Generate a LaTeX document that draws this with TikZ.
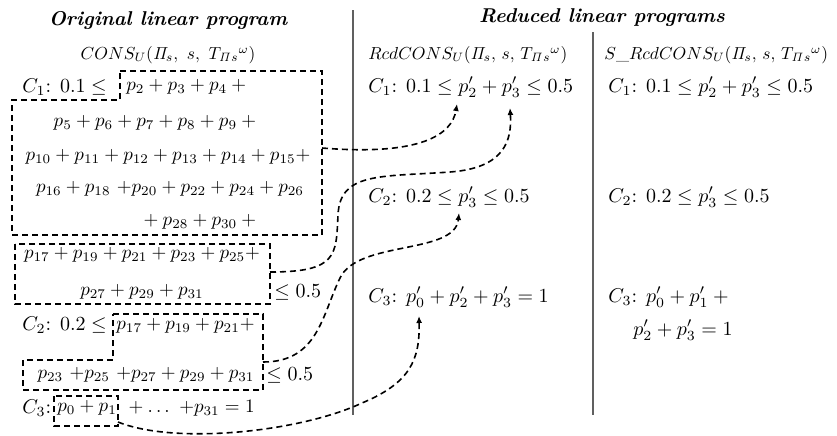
\documentclass[tikz,border=0pt]{standalone}
\usepackage{graphicx}
\usepackage{tikz}
\usetikzlibrary{arrows.meta, positioning}

\newcommand{\sums}[1]{\scalebox{0.95}{$#1$}}
\newcommand{\hdrs}[1]{\scalebox{0.87}{$#1$}}

\begin{document}
\begin{tikzpicture}[
    x=0.5pt, y=-0.5pt,
    txt/.style={inner sep=0pt, anchor=west},
    mid/.style={inner sep=0pt},
    ttl/.style={inner sep=0pt, font=\bfseries\itshape},
    dbox/.style={line width=0.8pt, dash pattern=on 3pt off 2pt},
    conn/.style={-{Latex[length=3.5pt, width=3pt]}, line width=0.8pt,
                 dash pattern=on 3pt off 2pt},
    sep/.style={gray!75!black, line width=0.6pt},
  ]
    \useasboundingbox (0,0) rectangle (837,435);

    % column titles
    \node[ttl] (orig) at (168,20) {Original linear program};
    \node[ttl] (red)  at (602,18) {Reduced linear programs};

    % separators
    \draw[sep] (353,10) -- (353,415);
    \draw[sep] (593,32) -- (593,415);

    % original program
    \node[mid] (cons) at (168,55)
        {\hdrs{CONS_U(\mathit{\Pi}_s,\ s,\ T_{\mathit{\Pi}s}{}^{\omega})}};
    \node[txt] (c1lbl) at (22,87)  {$C_1$: $0.1 \leq$};
    \node[txt] (c1r1)  at (126,87) {\sums{p_2 + p_3 + p_4 +{}}};
    \node[mid] (c1r2)  at (157,123) {\sums{p_5 + p_6 + p_7 + p_8 + p_9 +{}}};
    \node[mid] (c1r3)  at (168,157)
        {\sums{p_{10} + p_{11} + p_{12} + p_{13} + p_{14} + p_{15} +}};
    \node[mid] (c1r4)  at (170,189)
        {\sums{p_{16} + p_{18}\ {+}p_{20} + p_{22} + p_{24} + p_{26}}};
    \node[mid] (c1r5)  at (200,222) {\sums{{}+ p_{28} + p_{30} +{}}};
    \node[mid] (c1r6)  at (142,255)
        {\sums{p_{17} + p_{19} + p_{21} + p_{23} + p_{25} +}};
    \node[mid] (c1r7)  at (142,292) {\sums{p_{27} + p_{29} + p_{31}}};
    \node[txt] (c1le)  at (274,292) {$\leq 0.5$};

    \node[txt] (c2lbl) at (22,325)  {$C_2$: $0.2 \leq$};
    \node[txt] (c2r1)  at (116,326) {\sums{p_{17} + p_{19} + p_{21} +}};
    \node[mid] (c2r2)  at (146,375)
        {\sums{p_{23}\ {+}p_{25}\ {+}p_{27} + p_{29} + p_{31}}};
    \node[txt] (c2le)  at (266,375) {$\leq 0.5$};

    \node[txt] (c3lbl) at (22,408)  {$C_3$:};
    \node[txt] (c3r1)  at (57,408)  {\sums{p_0 + p_1}};
    \node[txt] (c3r2)  at (124,408) {\sums{{}+ \ldots\ {+}p_{31} = 1}};

    % dashed groups
    \draw[dbox] (120,71) -- (322,71) -- (322,235) -- (12,235)
                -- (12,100) -- (120,100) -- cycle;
    \draw[dbox] (15,244) rectangle (270,304);
    \draw[dbox] (113,314) -- (263,314) -- (263,390) -- (23,390)
                -- (23,360) -- (113,360) -- cycle;
    \draw[dbox] (54,396) rectangle (118,426);
    \coordinate (g1) at (322,148);
    \coordinate (g2) at (270,272);
    \coordinate (g3) at (263,362);
    \coordinate (g4) at (118,422);

    % reduced program
    \node[txt] (rcd)  at (368,55)
        {\hdrs{RcdCONS_U(\mathit{\Pi}_s,\,s,\,T_{\mathit{\Pi}s}{}^{\omega})}};
    \node[txt] (rc1)  at (368,87) {$C_1$: $0.1 \leq p'_2 + p'_3 \leq 0.5$};
    \node[txt] (rc2)  at (368,197) {$C_2$: $0.2 \leq p'_3 \leq 0.5$};
    \node[txt] (rc3)  at (368,297) {$C_3$: $p'_0 + p'_2 + p'_3 = 1$};
    \coordinate (t1) at (457,104);
    \coordinate (t2) at (510,108);
    \coordinate (t3) at (459,213);
    \coordinate (t4) at (419,316);

    % simplified reduced program
    \node[txt] (srcd) at (604,55)
        {\hdrs{S\_RcdCONS_U(\mathit{\Pi}_s,\,s,\,T_{\mathit{\Pi}s}{}^{\omega})}};
    \node[txt] (sc1)  at (608,87) {$C_1$: $0.1 \leq p'_2 + p'_3 \leq 0.5$};
    \node[txt] (sc2)  at (608,197) {$C_2$: $0.2 \leq p'_3 \leq 0.5$};
    \node[txt] (sc3)  at (608,297) {$C_3$: $p'_0 + p'_1 +{}$};
    \node[txt] (sc3b) at (633,330) {$p'_2 + p'_3 = 1$};

    % groups -> reduced variables
    \draw[conn] (g1) .. controls (420,156) and (452,135) .. (t1);
    \draw[conn] (g2) .. controls (338,272) and (336,255) .. (338,215)
                .. controls (340,172) and (380,177) .. (450,172)
                .. controls (505,168) and (512,140) .. (t2);
    \draw[conn] (g3) .. controls (318,362) and (322,315) .. (340,278)
                .. controls (358,240) and (455,255) .. (t3);
    \draw[conn] (g4) .. controls (175,445) and (300,432) .. (362,403)
                .. controls (410,383) and (420,360) .. (t4);
\end{tikzpicture}
\end{document}
